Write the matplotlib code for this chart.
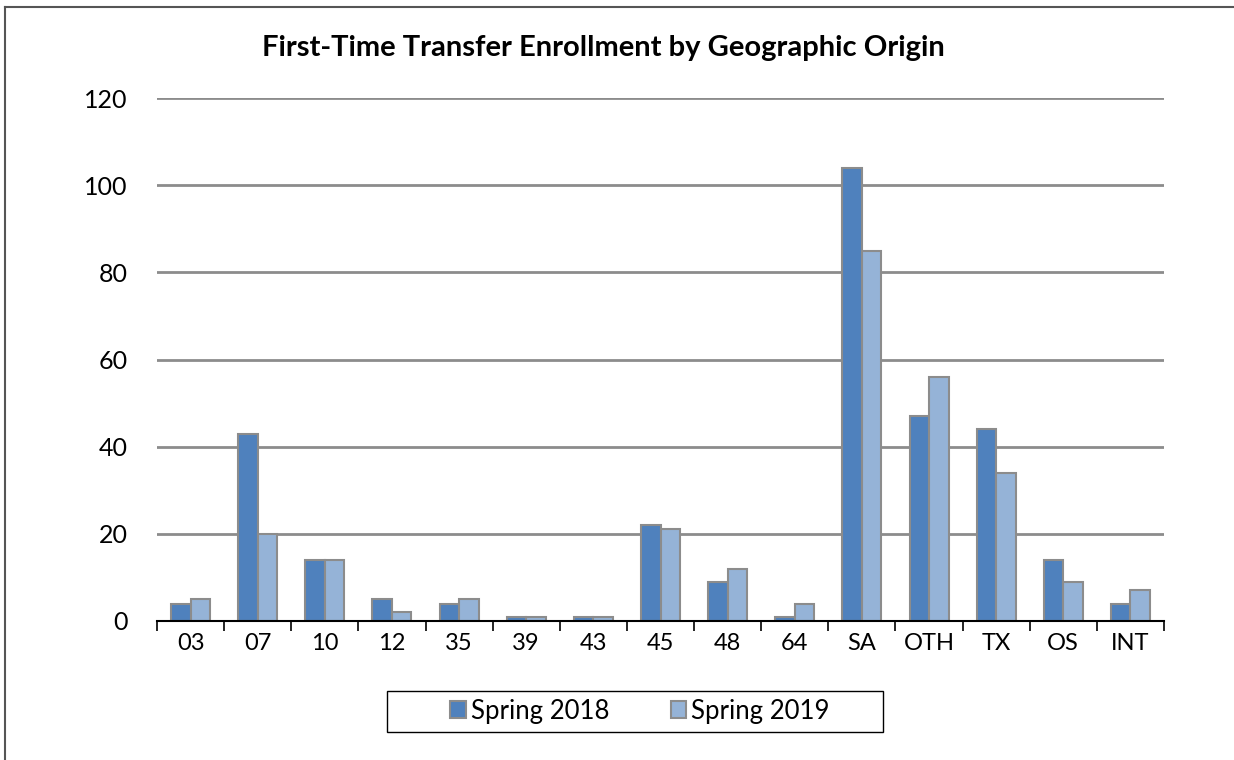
import matplotlib.pyplot as plt
import numpy as np
from matplotlib.patches import Rectangle
from matplotlib.lines import Line2D

# data
categories = ['03', '07', '10', '12', '35', '39', '43', '45', '48', '64',
              'SA', 'OTH', 'TX', 'OS', 'INT']
spring_2018 = [4, 43, 14, 5, 4, 1, 1, 22, 9, 1, 104, 47, 44, 14, 4]
spring_2019 = [5, 20, 14, 2, 5, 1, 1, 21, 12, 4, 85, 56, 34, 9, 7]
series_names = ['Spring 2018', 'Spring 2019']

plt.rcParams['font.family'] = ['Lato', 'DejaVu Sans']

W, H = 1234, 760
fig = plt.figure(figsize=(W / 100, H / 100), dpi=100)
ax = fig.add_axes([157 / W, 1 - 621 / H, 1007 / W, 523 / H])

x = np.arange(len(categories))
w = 0.29
edge = '#8c8c8c'
ax.bar(x - w / 2, spring_2018, w, color='#4f81bd', edgecolor=edge, linewidth=1.5,
       label=series_names[0], zorder=3)
ax.bar(x + w / 2, spring_2019, w, color='#95b3d7', edgecolor=edge, linewidth=1.5,
       label=series_names[1], zorder=3)

ax.set_xlim(-0.5, len(categories) - 0.5)
ax.set_ylim(0, 120)
ax.set_yticks(range(0, 121, 20))
ax.yaxis.grid(True, color='#8c8c8c', linewidth=2)
ax.set_axisbelow(True)
ax.tick_params(axis='y', length=0, pad=21, labelsize=18)

# category labels centred, ticks between categories
ax.set_xticks(x)
ax.set_xticklabels(categories)
ax.tick_params(axis='x', length=0, pad=9, labelsize=17)
ax.set_xticks(np.arange(-0.5, len(categories)), minor=True)
ax.tick_params(axis='x', which='minor', length=7, width=1.2, color='black',
               direction='out')

for s in ['top', 'right', 'left']:
    ax.spines[s].set_visible(False)
ax.spines['bottom'].set_linewidth(1.5)
ax.spines['bottom'].set_zorder(4)

fig.text(603 / W, 1 - 48 / H, 'First-Time Transfer Enrollment by Geographic Origin',
         ha='center', va='center', fontsize=21, fontweight='bold')

# legend without its own frame, box drawn separately
leg = fig.legend(loc='center', bbox_to_anchor=(640 / W, 1 - 711 / H), ncol=2,
                 fontsize=18.5, frameon=False,
                 handlelength=0.6, handleheight=0.6, handletextpad=0.2,
                 columnspacing=2.4)
fig.patches.append(Rectangle((387 / W, 1 - 732 / H), 496 / W, 41 / H,
                             transform=fig.transFigure, fill=False,
                             edgecolor='black', linewidth=1.0))

# outer chart frame: only left and top edges fall inside the image
fig.lines.append(Line2D([5 / W, 5 / W], [-0.05, 1 - 7 / H], transform=fig.transFigure,
                        color='#555555', linewidth=1.5))
fig.lines.append(Line2D([5 / W, 1.05], [1 - 7 / H, 1 - 7 / H], transform=fig.transFigure,
                        color='#555555', linewidth=1.5))

plt.savefig('out.png', dpi=100)
